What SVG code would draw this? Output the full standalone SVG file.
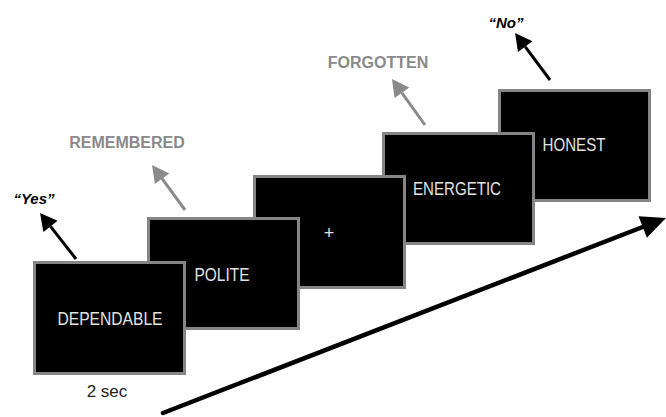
<svg xmlns="http://www.w3.org/2000/svg" width="666" height="417" viewBox="0 0 666 417">
<style>
.box{fill:#000;stroke:#858585;stroke-width:3}
.bt{font-family:"Liberation Sans",Arial,sans-serif;font-size:18px;fill:#e2e2e2;text-anchor:middle}
.lbl{font-family:"Liberation Sans",Arial,sans-serif;font-size:16px;font-weight:bold;fill:#8a8a8a;text-anchor:middle}
.resp{font-family:"Liberation Sans",Arial,sans-serif;font-size:15px;font-weight:bold;font-style:italic;fill:#000;text-anchor:middle}
.sec{font-family:"Liberation Sans",Arial,sans-serif;font-size:17px;fill:#222;text-anchor:middle}
.ak{stroke:#000;stroke-width:3;fill:none}
.ag{stroke:#8a8a8a;stroke-width:3;fill:none}
.big{stroke:#000;stroke-width:4.5;fill:none;stroke-linecap:round}
</style>
<defs>
<marker id="hk" markerUnits="userSpaceOnUse" viewBox="0 -9 18 18" markerWidth="18" markerHeight="18" refX="0" refY="0" orient="auto" overflow="visible">
<path d="M0,-9 L17,0 L0,9 z" fill="#000"/>
</marker>
<marker id="hg" markerUnits="userSpaceOnUse" viewBox="0 -9 18 18" markerWidth="18" markerHeight="18" refX="0" refY="0" orient="auto" overflow="visible">
<path d="M0,-9 L17,0 L0,9 z" fill="#8a8a8a"/>
</marker>
<marker id="hb" markerUnits="userSpaceOnUse" viewBox="0 -12 26 24" markerWidth="26" markerHeight="24" refX="0" refY="0" orient="auto" overflow="visible">
<path d="M0,-11.5 L25,0 L0,11.5 z" fill="#000"/>
</marker>
</defs>
<g id="n5"><rect class="box" x="499.5" y="90.5" width="150" height="110"/><text class="bt" x="574" y="151" textLength="63" lengthAdjust="spacingAndGlyphs">HONEST</text></g>
<g id="n4"><rect class="box" x="383.5" y="133.5" width="150" height="110"/><text class="bt" x="457" y="195" textLength="88" lengthAdjust="spacingAndGlyphs">ENERGETIC</text></g>
<g id="n3"><rect class="box" x="254.5" y="176.5" width="150" height="111"/><text class="bt" x="329" y="239">+</text></g>
<g id="n2"><rect class="box" x="148.5" y="218.5" width="150" height="110"/><text class="bt" x="222" y="281" textLength="55" lengthAdjust="spacingAndGlyphs">POLITE</text></g>
<g id="n1"><rect class="box" x="34.5" y="262.5" width="150" height="111"/><text class="bt" x="110" y="325" textLength="105" lengthAdjust="spacingAndGlyphs">DEPENDABLE</text></g>
<g id="labels">
<text class="resp" x="34" y="204">“Yes”</text>
<text class="lbl" x="127" y="148">REMEMBERED</text>
<text class="lbl" x="378" y="68">FORGOTTEN</text>
<text class="resp" x="506" y="28">“No”</text>
<text class="sec" x="107" y="397">2 sec</text>
</g>
<g id="connectors">
<line class="ak" x1="76" y1="259" x2="50.5" y2="226.4" marker-end="url(#hk)"/>
<line class="ag" x1="185" y1="210" x2="162.1" y2="178.7" marker-end="url(#hg)"/>
<line class="ag" x1="425" y1="125" x2="401.9" y2="92.8" marker-end="url(#hg)"/>
<line class="ak" x1="550" y1="80" x2="525.2" y2="46.6" marker-end="url(#hk)"/>
<line class="big" x1="163" y1="413" x2="642.7" y2="227" marker-end="url(#hb)"/>
</g>
</svg>
